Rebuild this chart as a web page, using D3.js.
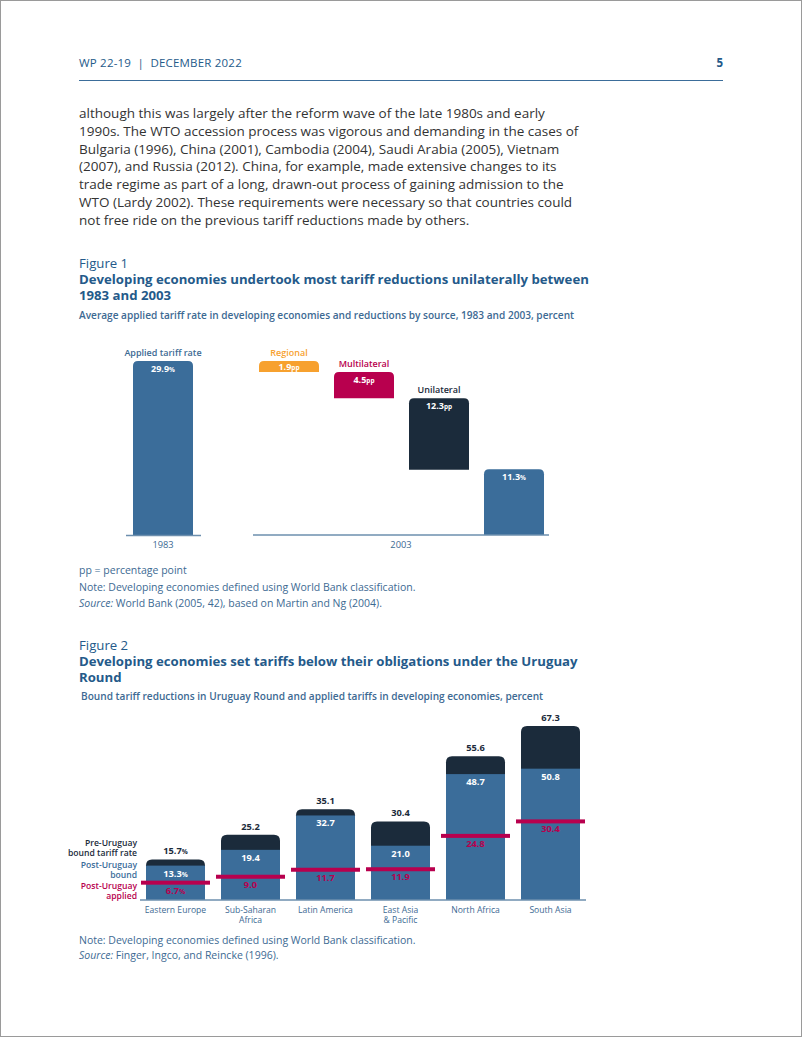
<!DOCTYPE html>
<html><head><meta charset="utf-8">
<script src="https://cdn.jsdelivr.net/npm/d3@7"></script>
<style>
body{margin:0;background:#fff;}
svg{display:block;font-family:"Open Sans",sans-serif;}
</style></head><body>
<svg id="page" width="802" height="1037"></svg>
<script>
// ---------- DATA ----------
const bodyLines = [
  "although this was largely after the reform wave of the late 1980s and early",
  "1990s. The WTO accession process was vigorous and demanding in the cases of",
  "Bulgaria (1996), China (2001), Cambodia (2004), Saudi Arabia (2005), Vietnam",
  "(2007), and Russia (2012). China, for example, made extensive changes to its",
  "trade regime as part of a long, drawn-out process of gaining admission to the",
  "WTO (Lardy 2002). These requirements were necessary so that countries could",
  "not free ride on the previous tariff reductions made by others."
];
// Figure 1
const fig1StartLabel = "Applied tariff rate";
const fig1Start = 29.9;
const fig1Steps = ["Regional", "Multilateral", "Unilateral"];
const fig1StepValues = [1.9, 4.5, 12.3];
const fig1End = 11.3;
const fig1Years = ["1983", "2003"];
// Figure 2
const fig2Categories = ["Eastern Europe", "Sub-Saharan\nAfrica", "Latin America", "East Asia\n& Pacific", "North Africa", "South Asia"];
const fig2PreBound = [15.7, 25.2, 35.1, 30.4, 55.6, 67.3];
const fig2PostBound = [13.3, 19.4, 32.7, 21.0, 48.7, 50.8];
const fig2Applied = [6.7, 9.0, 11.7, 11.9, 24.8, 30.4];

// ---------- STYLE ----------
const C = {
  blue: "#3b6d9a", dark: "#1b2b3b", red: "#b8004e", orange: "#f7a12f",
  title: "#245a8a", text: "#333333", note: "#3d6a93", axis: "#6d8fae"
};
const svg = d3.select("#page");
svg.append("rect").attr("x",0.5).attr("y",0.5).attr("width",801).attr("height",1036)
  .attr("fill","#fff").attr("stroke","#9a9a9a");

// header
svg.append("text").attr("x",79).attr("y",67).attr("font-size",11.5).attr("fill",C.title)
  .attr("letter-spacing",0.2).text("WP 22-19  |  DECEMBER 2022").attr("xml:space","preserve");
svg.append("text").attr("x",723).attr("y",67).attr("text-anchor","end").attr("font-size",11.5)
  .attr("font-weight",700).attr("fill",C.title).text("5");
svg.append("line").attr("x1",79).attr("x2",723).attr("y1",80.5).attr("y2",80.5)
  .attr("stroke",C.blue).attr("stroke-width",1);

// body
svg.append("g").selectAll("text").data(bodyLines).join("text")
  .attr("x",79).attr("y",(d,i)=>118+i*17.8).attr("font-size",13.5).attr("fill",C.text)
  .text(d=>d);

function roundTop(x,y,w,h,r){
  r=Math.min(r,h,w/2);
  return `M${x},${y+h}V${y+r}Q${x},${y} ${x+r},${y}H${x+w-r}Q${x+w},${y} ${x+w},${y+r}V${y+h}Z`;
}
function valText(g,x,y,num,unit,fill,size){
  const t=g.append("text").attr("x",x).attr("y",y).attr("text-anchor","middle")
    .attr("font-weight",700).attr("fill",fill).attr("font-size",size);
  t.append("tspan").text(num);
  if(unit) t.append("tspan").attr("font-size",size*0.72).text(unit);
}

// ---------- FIGURE 1 ----------
svg.append("text").attr("x",79).attr("y",268).attr("font-size",13.2).attr("fill",C.title).text("Figure 1");
svg.append("text").attr("x",79).attr("y",284).attr("font-size",13.2).attr("font-weight",700).attr("fill",C.title)
  .text("Developing economies undertook most tariff reductions unilaterally between");
svg.append("text").attr("x",79).attr("y",300).attr("font-size",13.2).attr("font-weight",700).attr("fill",C.title)
  .text("1983 and 2003");
svg.append("text").attr("x",79).attr("y",319).attr("font-size",10.1).attr("fill",C.note).attr("font-weight",600)
  .text("Average applied tariff rate in developing economies and reductions by source, 1983 and 2003, percent");

const y1 = d3.scaleLinear().domain([0, fig1Start]).range([535, 361]);
const x83 = d3.scaleBand().domain([fig1Years[0]]).range([125.5,200.5]).paddingInner(0.2).paddingOuter(0.1);
const x03 = d3.scaleBand().domain([...fig1Steps, fig1Years[1]]).range([251.5,551.5]).paddingInner(0.2).paddingOuter(0.1);
const g1 = svg.append("g");

// 1983 bar
g1.append("path").attr("d",roundTop(x83("1983"), y1(fig1Start), x83.bandwidth(), y1(0)-y1(fig1Start), 5)).attr("fill",C.blue);
g1.append("text").attr("x",x83("1983")+x83.bandwidth()/2).attr("y",y1(fig1Start)-5).attr("text-anchor","middle")
  .attr("font-size",9).attr("font-weight",600).attr("fill",C.note).text(fig1StartLabel);
valText(g1, x83("1983")+x83.bandwidth()/2, y1(fig1Start)+11, fig1Start.toFixed(1), "%", "#fff", 9);

// steps
const stepColors = [C.orange, C.red, C.dark];
let run = fig1Start;
fig1Steps.forEach((s,i)=>{
  const top = run, bot = run - fig1StepValues[i];
  const x = x03(s), w = x03.bandwidth();
  g1.append("path").attr("d",roundTop(x,y1(top),w,y1(bot)-y1(top),5)).attr("fill",stepColors[i]);
  g1.append("text").attr("x",x+w/2).attr("y",y1(top)-5).attr("text-anchor","middle")
    .attr("font-size",9).attr("font-weight",600).attr("fill", i===2? C.dark : stepColors[i]).text(s);
  valText(g1, x+w/2, y1(top)+ (i===0? 8.5 : 11), fig1StepValues[i].toFixed(1), "pp", "#fff", 9);
  run = bot;
});
// 2003 bar
g1.append("path").attr("d",roundTop(x03(fig1Years[1]), y1(fig1End), x03.bandwidth(), y1(0)-y1(fig1End), 5)).attr("fill",C.blue);
valText(g1, x03(fig1Years[1])+x03.bandwidth()/2, y1(fig1End)+11, fig1End.toFixed(1), "%", "#fff", 9);

// axes
const ax83 = d3.axisBottom(x83).tickSize(0).tickPadding(6);
g1.append("g").attr("transform",`translate(0,${y1(0)})`).call(ax83)
  .call(g=>g.select(".domain").attr("stroke",C.axis).attr("stroke-width",1.5))
  .call(g=>g.selectAll("text").attr("font-size",9.3).attr("fill",C.note).attr("font-family","Open Sans"));
g1.append("line").attr("x1",253).attr("x2",549).attr("y1",y1(0)).attr("y2",y1(0)).attr("stroke",C.axis).attr("stroke-width",1.5);
g1.append("text").attr("x",(253+549)/2).attr("y",y1(0)+13).attr("text-anchor","middle")
  .attr("font-size",9.3).attr("fill",C.note).text(fig1Years[1]);

// notes 1
const n1 = svg.append("g").attr("font-size",10.5).attr("fill",C.note);
n1.append("text").attr("x",79).attr("y",574).text("pp = percentage point");
n1.append("text").attr("x",79).attr("y",590.5).text("Note: Developing economies defined using World Bank classification.");
const s1 = n1.append("text").attr("x",79).attr("y",607);
s1.append("tspan").attr("font-style","italic").text("Source:");
s1.append("tspan").text(" World Bank (2005, 42), based on Martin and Ng (2004).");

// ---------- FIGURE 2 ----------
svg.append("text").attr("x",79).attr("y",650).attr("font-size",13.2).attr("fill",C.title).text("Figure 2");
svg.append("text").attr("x",79).attr("y",666).attr("font-size",13.2).attr("font-weight",700).attr("fill",C.title)
  .text("Developing economies set tariffs below their obligations under the Uruguay");
svg.append("text").attr("x",79).attr("y",682).attr("font-size",13.2).attr("font-weight",700).attr("fill",C.title)
  .text("Round");
svg.append("text").attr("x",81).attr("y",700).attr("font-size",10.1).attr("fill",C.note).attr("font-weight",600)
  .text("Bound tariff reductions in Uruguay Round and applied tariffs in developing economies, percent");

const x2 = d3.scaleBand().domain(fig2Categories).range([138.5,587.5]).paddingInner(16/75).paddingOuter(0.1);
const y2 = d3.scaleLinear().domain([0, d3.max(fig2PreBound)]).range([900, 726]);
const g2 = svg.append("g");
fig2Categories.forEach((c,i)=>{
  const x = x2(c), w = x2.bandwidth(), cx = x+w/2;
  g2.append("path").attr("d",roundTop(x,y2(fig2PreBound[i]),w,y2(0)-y2(fig2PreBound[i]),6)).attr("fill",C.dark);
  g2.append("rect").attr("x",x).attr("y",y2(fig2PostBound[i])).attr("width",w).attr("height",y2(0)-y2(fig2PostBound[i])).attr("fill",C.blue);
  g2.append("rect").attr("x",x-5).attr("y",y2(fig2Applied[i])-2).attr("width",w+10).attr("height",4).attr("fill",C.red);
  const pct = i===0 ? "%" : "";
  valText(g2, cx, y2(fig2PreBound[i])-5, fig2PreBound[i].toFixed(1), pct, C.dark, 9.3);
  valText(g2, cx, y2(fig2PostBound[i])+11, fig2PostBound[i].toFixed(1), pct, "#fff", 9.3);
  valText(g2, cx, y2(fig2Applied[i])+11, fig2Applied[i].toFixed(1), pct, C.red, 9.3);
});
// axis: domain line from the d3 axis, category labels as separate lines
const ax2 = d3.axisBottom(x2).tickSize(0);
g2.append("g").attr("transform",`translate(0,${y2(0)})`).call(ax2)
  .call(g=>g.selectAll(".tick").remove())
  .call(g=>g.select(".domain").attr("stroke",C.axis).attr("stroke-width",1.5).attr("d","M140,0H586"));
fig2Categories.forEach(c=>{
  c.split("\n").forEach((p,k)=>g2.append("text").attr("x",x2(c)+x2.bandwidth()/2).attr("y",y2(0)+12.5+k*10.5)
    .attr("text-anchor","middle").attr("font-size",8.6).attr("fill",C.note).text(p));
});

// legend labels
const leg = [
  {lines:["Pre-Uruguay","bound tariff rate"], y:[845.5,855.5], fill:C.dark},
  {lines:["Post-Uruguay","bound"], y:[867.5,877.5], fill:C.blue},
  {lines:["Post-Uruguay","applied"], y:[889,899], fill:C.red}
];
leg.forEach(l=>{
  l.lines.forEach((p,k)=>g2.append("text").attr("x",137).attr("y",l.y[k]).attr("text-anchor","end")
    .attr("font-size",8.6).attr("font-weight",600).attr("fill",l.fill).text(p));
});

// notes 2
const n2 = svg.append("g").attr("font-size",10.5).attr("fill",C.note);
n2.append("text").attr("x",79).attr("y",943.5).text("Note: Developing economies defined using World Bank classification.");
const s2 = n2.append("text").attr("x",79).attr("y",959);
s2.append("tspan").attr("font-style","italic").text("Source:");
s2.append("tspan").text(" Finger, Ingco, and Reincke (1996).");
</script>
</body></html>
